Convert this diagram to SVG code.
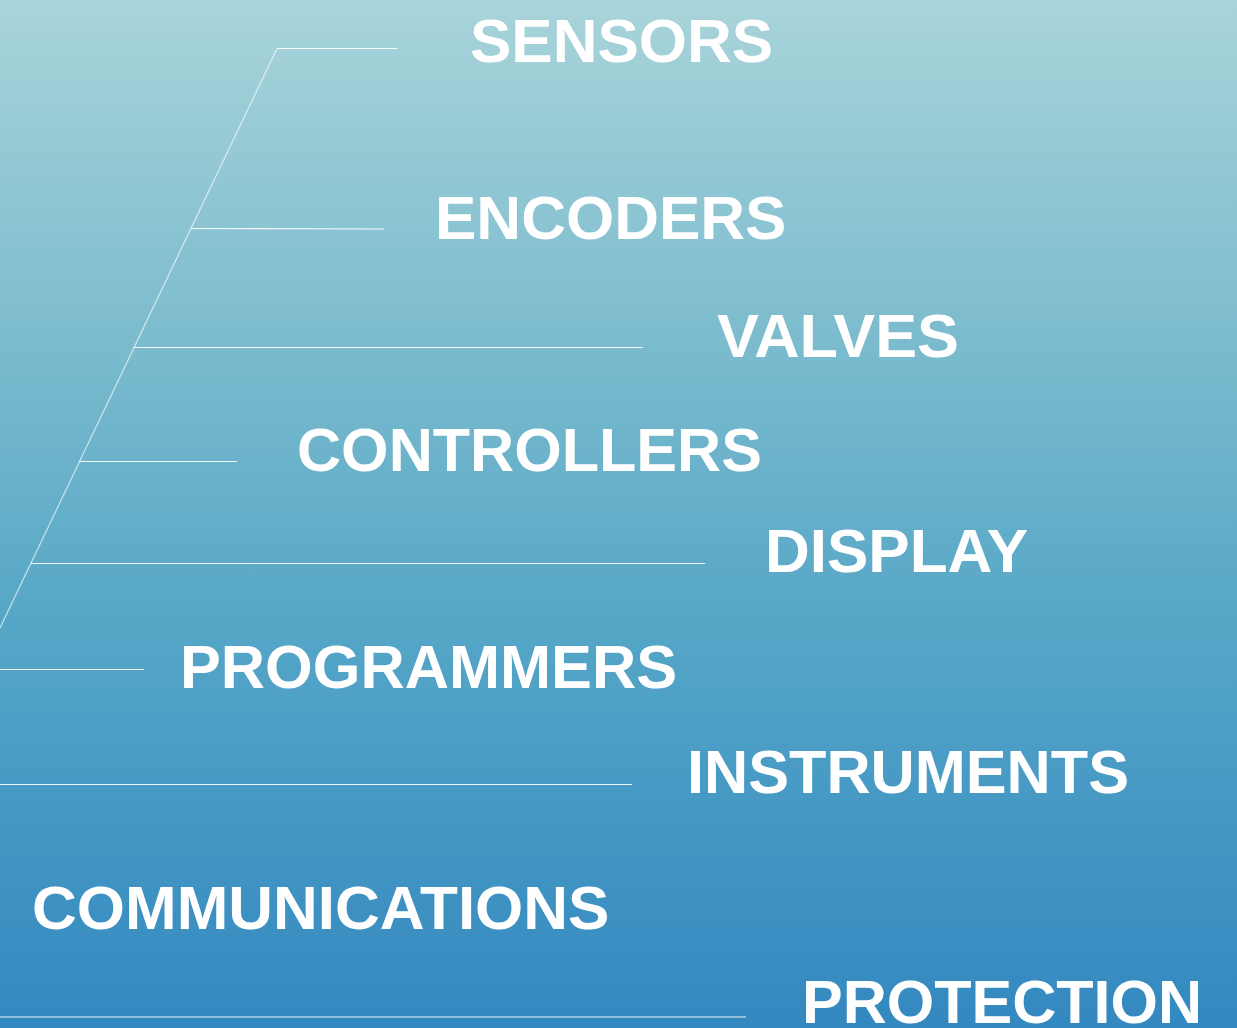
<svg xmlns="http://www.w3.org/2000/svg" width="1237" height="1028" viewBox="0 0 1237 1028">
<defs>
<linearGradient id="bg" x1="0" y1="0" x2="0" y2="1">
<stop offset="0" stop-color="#a9d4da"/>
<stop offset="0.35" stop-color="#79bacd"/>
<stop offset="0.6" stop-color="#56a7c7"/>
<stop offset="1" stop-color="#3388c0"/>
</linearGradient>
<style>
.lbl{font-family:"Liberation Sans",Arial,sans-serif;font-weight:bold;font-size:62px;fill:#fff}
.h{stroke:#fff;stroke-width:1.2;stroke-opacity:0.9;fill:none}
.d{stroke:#fff;stroke-width:1.2;stroke-opacity:0.65;fill:none}
</style>
</defs>
<rect x="0" y="0" width="1237" height="1028" fill="url(#bg)"/>
<g id="connectors">
<line class="d" x1="277" y1="48.5" x2="0" y2="628"/>
<line class="h" x1="277" y1="48.5" x2="397" y2="48.5"/>
<line class="h" x1="191" y1="228.5" x2="384" y2="229"/>
<line class="h" x1="134" y1="347.5" x2="643" y2="347.5"/>
<line class="h" x1="79" y1="461.5" x2="237" y2="461.5"/>
<line class="h" x1="31" y1="563.5" x2="705" y2="563.5"/>
<line class="h" x1="0" y1="669.5" x2="144" y2="669.5"/>
<line class="h" x1="0" y1="784.5" x2="632" y2="784.5"/>
<line class="h" x1="0" y1="1017" x2="746" y2="1017"/>
</g>
<g id="sensors"><text class="lbl" x="470" y="62">SENSORS</text></g>
<g id="encoders"><text class="lbl" x="435" y="239">ENCODERS</text></g>
<g id="valves"><text class="lbl" x="717" y="357" textLength="242" lengthAdjust="spacingAndGlyphs">VALVES</text></g>
<g id="controllers"><text class="lbl" x="297" y="471" textLength="465" lengthAdjust="spacingAndGlyphs">CONTROLLERS</text></g>
<g id="display"><text class="lbl" x="765" y="572">DISPLAY</text></g>
<g id="programmers"><text class="lbl" x="180" y="688" textLength="497" lengthAdjust="spacingAndGlyphs">PROGRAMMERS</text></g>
<g id="instruments"><text class="lbl" x="687" y="793" textLength="442" lengthAdjust="spacingAndGlyphs">INSTRUMENTS</text></g>
<g id="communications"><text class="lbl" x="32" y="929">COMMUNICATIONS</text></g>
<g id="protection"><text class="lbl" x="802" y="1023" textLength="400" lengthAdjust="spacingAndGlyphs">PROTECTION</text></g>
</svg>
